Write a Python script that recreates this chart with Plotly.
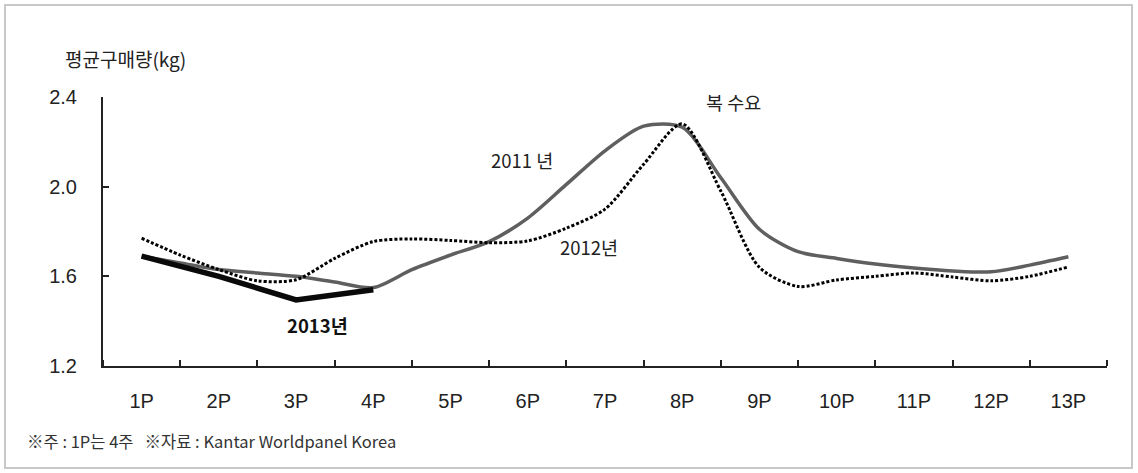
import plotly.graph_objects as go

# Average purchase quantity per period (kg)
periods = ["1P", "2P", "3P", "4P", "5P", "6P", "7P", "8P", "9P", "10P", "11P", "12P", "13P"]
period_no = [1, 2, 3, 4, 5, 6, 7, 8, 9, 10, 11, 12, 13]

# 2011 / 2012 readings at half-period steps
half_steps = [1, 1.5, 2, 2.5, 3, 3.5, 4, 4.5, 5, 5.5, 6, 6.5, 7, 7.5, 8, 8.5,
              9, 9.5, 10, 10.5, 11, 11.5, 12, 12.5, 13]
y2011 = [1.69, 1.66, 1.63, 1.615, 1.60, 1.575, 1.55, 1.63, 1.695, 1.755, 1.86, 2.01,
         2.16, 2.27, 2.265, 2.04, 1.81, 1.71, 1.68, 1.655, 1.637, 1.624, 1.62, 1.65, 1.687]
y2012 = [1.77, 1.695, 1.63, 1.58, 1.585, 1.68, 1.755, 1.767, 1.76, 1.75, 1.758, 1.815,
         1.90, 2.10, 2.28, 1.98, 1.64, 1.555, 1.584, 1.60, 1.615, 1.597, 1.58, 1.60, 1.642]

# 2013 (first four periods)
y2013 = [1.69, 1.60, 1.495, 1.54]

y_ticks = [1.2, 1.6, 2.0, 2.4]
y_ticktext = ["1.2", "1.6", "2.0", "2.4"]

W, H = 1138, 473
ML, MR, MT, MB = 103, 31, 97, 107
PW, PH = W - ML - MR, H - MT - MB

num_font = "Liberation Sans Narrow, Liberation Sans, Arial, sans-serif"
kr_font = "Noto Sans CJK KR, Noto Sans, sans-serif"
ink = "#222222"

fig = go.Figure()
fig.add_trace(go.Scatter(
    x=half_steps, y=y2011, mode="lines", hoverinfo="skip",
    line=dict(color="#5f5f5f", width=3.5, shape="spline", smoothing=0.8)))
fig.add_trace(go.Scatter(
    x=half_steps, y=y2012, mode="lines", hoverinfo="skip",
    line=dict(color="#000000", width=3, dash="3px,2px", shape="spline", smoothing=0.8)))
fig.add_trace(go.Scatter(
    x=period_no[:len(y2013)], y=y2013, mode="lines", hoverinfo="skip",
    line=dict(color="#0a0a0a", width=5.5)))

fig.update_xaxes(
    range=[0.5, 13.5], tickvals=period_no, ticktext=periods, ticks="",
    minor=dict(ticks="inside", tick0=0.5, dtick=1, ticklen=6, tickwidth=1.5, tickcolor=ink, showgrid=False),
    showline=True, linecolor=ink, linewidth=2, showgrid=False, zeroline=False,
    tickfont=dict(family=num_font, size=20, color=ink), ticklabelstandoff=16)
fig.update_yaxes(
    range=[1.2, 2.4], tickvals=y_ticks, ticktext=y_ticktext, ticks="inside",
    ticklen=6, tickwidth=1.5, tickcolor=ink,
    showline=True, linecolor=ink, linewidth=2, showgrid=False, zeroline=False,
    tickfont=dict(family=num_font, size=20, color=ink), ticklabelstandoff=20)


def px_x(px):
    return (px - ML) / PW


def px_y(py):
    return (H - MB - py) / PH


annotations = [
    dict(text="평균구매량(kg)", x=px_x(125), y=px_y(58), xref="paper", yref="paper",
         font=dict(family=kr_font, size=19, color=ink)),
    dict(text="2011 년", x=5.93, y=2.12, font=dict(family=kr_font, size=18.5, color=ink)),
    dict(text="2012년", x=6.79, y=1.73, font=dict(family=kr_font, size=18.5, color=ink)),
    dict(text="복 수요", x=8.67, y=2.378, font=dict(family=kr_font, size=18.5, color=ink)),
    dict(text="<b>2013년</b>", x=3.28, y=1.383, font=dict(family=kr_font, size=18.5, color="#111111")),
    dict(text="※주 : 1P는 4주   ※자료 : Kantar Worldpanel Korea", x=px_x(25), y=px_y(441),
         xref="paper", yref="paper", xanchor="left",
         font=dict(family=kr_font, size=16.5, color="#333333")),
]
for a in annotations:
    a.setdefault("xref", "x")
    a.setdefault("yref", "y")
    a.setdefault("showarrow", False)
    a.setdefault("xanchor", "center")
    a.setdefault("yanchor", "middle")

fig.update_layout(
    width=W, height=H, margin=dict(l=ML, r=MR, t=MT, b=MB),
    paper_bgcolor="white", plot_bgcolor="white", showlegend=False,
    annotations=annotations,
    shapes=[dict(type="rect", xref="paper", yref="paper",
                 x0=px_x(5), x1=px_x(1132), y0=px_y(468), y1=px_y(5),
                 line=dict(color="#c8c8c8", width=2), layer="below")],
)

fig.write_html("out.html")
